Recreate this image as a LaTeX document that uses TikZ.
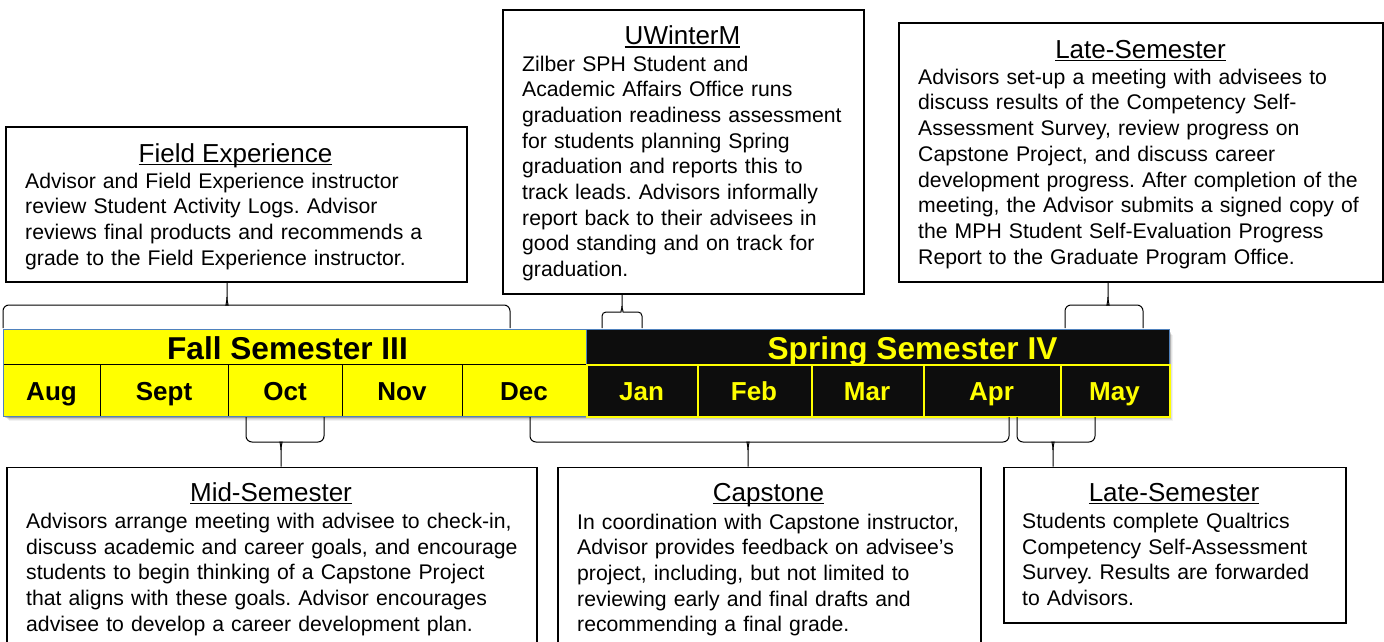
\documentclass[tikz,border=0pt]{standalone}
\usepackage{fontspec}
\setmainfont{Liberation Sans}
\frenchspacing
\definecolor{barblue}{RGB}{79,129,189}
\definecolor{barblack}{RGB}{13,13,13}
\definecolor{baryellow}{RGB}{255,255,0}
\newcommand\bodyf{\fontsize{21.2pt}{25.7pt}\selectfont}
\newcommand\titlef{\fontsize{26pt}{30pt}\selectfont}
\newcommand\hdrf{\fontsize{31.6pt}{36pt}\selectfont\bfseries}
\newcommand\monf{\fontsize{26pt}{30pt}\selectfont\bfseries}
\newcommand\ttlul[1]{\setbox0\hbox{#1}\rlap{\rule[-3pt]{\wd0}{1.5pt}}\box0}
\tikzset{
  infobox/.style={draw=black, line width=1.6pt, fill=white, rectangle, inner sep=0pt, anchor=north west},
  boxtitle/.style={font=\titlef, anchor=base, inner sep=0pt},
  boxbody/.style={font=\bodyf, align=left, text width=#1, anchor=base west, inner sep=0pt},
  bracepath/.style={draw=black, line width=1pt},
  hdrcell/.style={rectangle, inner sep=0pt, anchor=north west, minimum height=35pt, line width=1pt},
  fallmonth/.style={rectangle, inner sep=0pt, anchor=north west, minimum height=52pt, fill=baryellow, draw=black, line width=0.8pt},
  springmonth/.style={rectangle, inner sep=0pt, anchor=north west, minimum height=52pt, fill=barblack, draw=baryellow, line width=1.5pt},
  fallmonthlbl/.style={font=\monf, anchor=base, inner sep=0pt, text=black},
  springmonthlbl/.style={font=\monf, anchor=base, inner sep=0pt, text=baryellow},
}
\begin{document}
\begin{tikzpicture}[x=1pt,y=-1pt]
\useasboundingbox (0,0) rectangle (1384,642);
\fill[white] (0,0) rectangle (1384,642);

% ---------- timeline shadow ----------
\foreach \o/\op in {6/0.05,5/0.07,4/0.09,3/0.11,2/0.13}
  \fill[black,opacity=\op] (3+\o,329+\o) rectangle (1169+\o*0.6,416+\o*0.8);

% ---------- headers ----------
\node[hdrcell, fill=baryellow, draw=barblue, minimum width=583pt] (fallhdr) at (3,329) {};
\node[hdrcell, fill=barblack, draw=barblue, minimum width=583pt] (springhdr) at (586,329) {};
\node[font=\hdrf, anchor=base, inner sep=0pt] (falllbl) at (287.5,359) {Fall Semester III};
\node[font=\hdrf, anchor=base, inner sep=0pt, text=baryellow] (springlbl) at (912.5,359) {Spring Semester IV};

% ---------- months ----------
\node[fallmonth, minimum width=97pt] (aug) at (3,364) {};
\node[fallmonth, minimum width=128pt] (sep) at (100,364) {};
\node[fallmonth, minimum width=114pt] (oct) at (228,364) {};
\node[fallmonth, minimum width=120pt] (nov) at (342,364) {};
\node[fallmonth, minimum width=124pt] (dec) at (462,364) {};
\draw[barblue, line width=1pt] (3,364) -- (3,416) -- (586,416);
\node[springmonth, minimum width=111pt] (jan) at (586,364) {};
\node[springmonth, minimum width=114pt] (feb) at (697,364) {};
\node[springmonth, minimum width=112pt] (mar) at (811,364) {};
\node[springmonth, minimum width=137pt] (apr) at (923,364) {};
\node[springmonth, minimum width=109pt] (may) at (1060,364) {};

\node[fallmonthlbl] (augl) at (51.5,400.5) {Aug};
\node[fallmonthlbl] (sepl) at (164,400.5) {Sept};
\node[fallmonthlbl] (octl) at (285,400.5) {Oct};
\node[fallmonthlbl] (novl) at (402,400.5) {Nov};
\node[fallmonthlbl] (decl) at (524,400.5) {Dec};
\node[springmonthlbl] (janl) at (641.5,400.5) {Jan};
\node[springmonthlbl] (febl) at (754,400.5) {Feb};
\node[springmonthlbl] (marl) at (867,400.5) {Mar};
\node[springmonthlbl] (aprl) at (991.5,400.5) {Apr};
\node[springmonthlbl] (mayl) at (1114.5,400.5) {May};

% ---------- boxes ----------
\node[infobox, minimum width=461pt, minimum height=155pt] (fe) at (5,126) {};
\node[boxtitle] (fet) at (235.5,162) {\ttlul{Field Experience}};
\node[boxbody=440pt] (feb) at (25,188) {Advisor and Field Experience instructor\\
review Student Activity Logs. Advisor\\
reviews final products and recommends a\\
grade to the Field Experience instructor.};

\node[infobox, minimum width=361pt, minimum height=284pt] (uw) at (502,9) {};
\node[boxtitle] (uwt) at (682.5,45) {\ttlul{UWinterM}};
\node[boxbody=340pt] (uwb) at (522,71) {Zilber SPH Student and\\
Academic Affairs Office runs\\
graduation readiness assessment\\
for students planning Spring\\
graduation and reports this to\\
track leads. Advisors informally\\
report back to their advisees in\\
good standing and on track for\\
graduation.};

\node[infobox, minimum width=484pt, minimum height=259pt] (lt) at (898,22) {};
\node[boxtitle] (ltt) at (1140.5,58.5) {\ttlul{Late-Semester}};
\node[boxbody=462pt] (ltb) at (918,84.3) {Advisors set-up a meeting with advisees to\\
discuss results of the Competency Self-\\
Assessment Survey, review progress on\\
Capstone Project, and discuss career\\
development progress. After completion of the\\
meeting, the Advisor submits a signed copy of\\
the MPH Student Self-Evaluation Progress\\
Report to the Graduate Program Office.};

\node[infobox, minimum width=530pt, minimum height=180pt] (mid) at (6,466.5) {};
\node[boxtitle] (midt) at (271,501) {\ttlul{Mid-Semester}};
\node[boxbody=508pt] (midb) at (26,528.3) {Advisors arrange meeting with advisee to check-in,\\
discuss academic and career goals, and encourage\\
students to begin thinking of a Capstone Project\\
that aligns with these goals. Advisor encourages\\
advisee to develop a career development plan.};

\node[infobox, minimum width=423pt, minimum height=180pt] (cap) at (557,466.5) {};
\node[boxtitle] (capt) at (768.5,501) {\ttlul{Capstone}};
\node[boxbody=400pt] (capb) at (577,529) {In coordination with Capstone instructor,\\
Advisor provides feedback on advisee’s\\
project, including, but not limited to\\
reviewing early and final drafts and\\
recommending a final grade.};

\node[infobox, minimum width=342pt, minimum height=155.5pt] (lb) at (1003,466.5) {};
\node[boxtitle] (lbt) at (1174,501) {\ttlul{Late-Semester}};
\node[boxbody=320pt] (lbb) at (1022,528.5) {Students complete Qualtrics\\
Competency Self-Assessment\\
Survey. Results are forwarded\\
to Advisors.};

% ---------- braces ----------
\coordinate (b1L) at (3,328);   \coordinate (b1R) at (510,328);
\draw[bracepath, rounded corners=6pt] (b1L) -- (3,305) -- (221,305) [sharp corners] .. controls (225,305) and (227,303) .. (227,297) -- (fe.south -| 227,0);
\draw[bracepath, rounded corners=6pt] (b1R) -- (510,305) -- (233,305) [sharp corners] .. controls (229,305) and (227,303) .. (227,297);

\coordinate (b2L) at (602,328); \coordinate (b2R) at (642,328);
\draw[bracepath, rounded corners=4pt] (b2L) -- (602,312) -- (617,312) [sharp corners] .. controls (620,312) and (622,310.5) .. (622,306) -- (uw.south -| 622,0);
\draw[bracepath, rounded corners=4pt] (b2R) -- (642,312) -- (627,312) [sharp corners] .. controls (624,312) and (622,310.5) .. (622,306);

\coordinate (b3L) at (1065,328); \coordinate (b3R) at (1143,328);
\draw[bracepath, rounded corners=6pt] (b3L) -- (1065,305) -- (1102,305) [sharp corners] .. controls (1106,305) and (1108,303) .. (1108,297) -- (lt.south -| 1108,0);
\draw[bracepath, rounded corners=6pt] (b3R) -- (1143,305) -- (1114,305) [sharp corners] .. controls (1110,305) and (1108,303) .. (1108,297);

\coordinate (b4L) at (246,417); \coordinate (b4R) at (324,417);
\draw[bracepath, rounded corners=6pt] (b4L) -- (246,442) -- (275,442) [sharp corners] .. controls (279,442) and (281,444) .. (281,450) -- (mid.north -| 281,0);
\draw[bracepath, rounded corners=6pt] (b4R) -- (324,442) -- (287,442) [sharp corners] .. controls (283,442) and (281,444) .. (281,450);

\coordinate (b5L) at (530,417); \coordinate (b5R) at (1009,417);
\draw[bracepath, rounded corners=6pt] (b5L) -- (530,442) -- (742,442) [sharp corners] .. controls (746,442) and (748,444) .. (748,450) -- (cap.north -| 748,0);
\draw[bracepath, rounded corners=6pt] (b5R) -- (1009,442) -- (754,442) [sharp corners] .. controls (750,442) and (748,444) .. (748,450);

\coordinate (b6L) at (1017,417); \coordinate (b6R) at (1095,417);
\draw[bracepath, rounded corners=6pt] (b6L) -- (1017,442) -- (1047,442) [sharp corners] .. controls (1051,442) and (1053,444) .. (1053,450) -- (lb.north -| 1053,0);
\draw[bracepath, rounded corners=6pt] (b6R) -- (1095,442) -- (1059,442) [sharp corners] .. controls (1055,442) and (1053,444) .. (1053,450);
\end{tikzpicture}
\end{document}
